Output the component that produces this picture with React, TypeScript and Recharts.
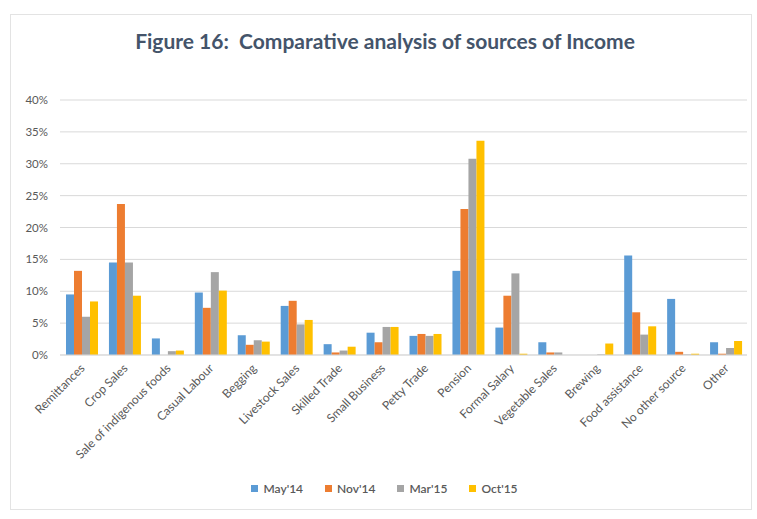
import React from "react";
import { BarChart, Bar, XAxis, YAxis, CartesianGrid, Legend } from "recharts";

const categories = [
  "Remittances",
  "Crop Sales",
  "Sale of indigenous foods",
  "Casual Labour",
  "Begging",
  "Livestock Sales",
  "Skilled Trade",
  "Small Business",
  "Petty Trade",
  "Pension",
  "Formal Salary",
  "Vegetable Sales",
  "Brewing",
  "Food assistance",
  "No other source",
  "Other",
];

const may14 = [9.5, 14.5, 2.6, 9.8, 3.1, 7.7, 1.7, 3.5, 3.0, 13.2, 4.3, 2.0, 0, 15.6, 8.8, 2.0];
const nov14 = [13.2, 23.7, 0, 7.4, 1.6, 8.5, 0.4, 2.0, 3.3, 22.9, 9.3, 0.4, 0, 6.7, 0.5, 0.2];
const mar15 = [6.0, 14.5, 0.6, 13.0, 2.3, 4.8, 0.7, 4.4, 3.0, 30.8, 12.8, 0.4, 0.1, 3.2, 0.1, 1.1];
const oct15 = [8.4, 9.3, 0.7, 10.1, 2.1, 5.5, 1.3, 4.4, 3.3, 33.6, 0.2, 0, 1.8, 4.5, 0.2, 2.2];

const yTicks = [0, 5, 10, 15, 20, 25, 30, 35, 40];

const seriesKeys = ["may14", "nov14", "mar15", "oct15"];
const seriesNames = ["May'14", "Nov'14", "Mar'15", "Oct'15"];
const seriesColors = ["#5B9BD5", "#ED7D31", "#A5A5A5", "#FFC000"];

const data = categories.map((c, i) => ({
  name: c,
  may14: may14[i],
  nov14: nov14[i],
  mar15: mar15[i],
  oct15: oct15[i],
}));

const FONT = "Lato, 'Open Sans', sans-serif";

const XTick = (props: any) => {
  const { x, y, payload } = props;
  return (
    <g transform={`translate(${x + 4},${y + 6})`}>
      <text
        x={0}
        y={0}
        textAnchor="end"
        transform="rotate(-45)"
        fill="#595959"
        fontSize={12}
        fontFamily={FONT}
      >
        {payload.value}
      </text>
    </g>
  );
};

const YTick = (props: any) => {
  const { y, payload } = props;
  return (
    <text x={48} y={y + 4} textAnchor="end" fill="#595959" fontSize={11.5} fontFamily={FONT}>
      {`${payload.value}%`}
    </text>
  );
};

const renderLegend = () => {
  return (
    <div
      style={{
        display: "flex",
        justifyContent: "center",
        gap: 22,
        fontFamily: FONT,
        fontSize: 12,
        color: "#595959",
        paddingLeft: 22,
        paddingTop: 11,
      }}
    >
      {seriesNames.map((n, i) => (
        <div key={n} style={{ display: "flex", alignItems: "center", gap: 5 }}>
          <span style={{ display: "inline-block", width: 7, height: 7, background: seriesColors[i] }} />
          <span style={{ fontWeight: 600 }}>{n}</span>
        </div>
      ))}
    </div>
  );
};

export default function App() {
  return (
    <div style={{ position: "absolute", left: 0, top: 0, width: 757, height: 519, background: "#fff" }}>
      <div
        style={{
          position: "absolute",
          left: 10,
          top: 14,
          width: 742,
          height: 496,
          border: "1px solid #e3e3e3",
          boxSizing: "border-box",
        }}
      />
      <div
        style={{
          position: "absolute",
          left: 0,
          top: 28,
          width: 770,
          textAlign: "center",
          fontFamily: FONT,
          fontWeight: 700,
          fontSize: 21,
          color: "#44546A",
        }}
      >
        Figure 16:&nbsp; Comparative analysis of sources of Income
      </div>
      <div style={{ position: "absolute", left: 0, top: 0 }}>
        <BarChart
          width={757}
          height={519}
          data={data}
          margin={{ top: 100, right: 10, left: 0, bottom: 15 }}
          barCategoryGap="14%"
          barGap={0}
        >
          <CartesianGrid vertical={false} stroke="#d9d9d9" />
          <XAxis
            dataKey="name"
            interval={0}
            height={115}
            tick={<XTick />}
            tickLine={false}
            axisLine={{ stroke: "#d9d9d9" }}
          />
          <YAxis
            width={60}
            domain={[0, 40]}
            ticks={yTicks}
            tick={<YTick />}
            tickLine={false}
            axisLine={false}
          />
          <Legend verticalAlign="bottom" height={34} content={renderLegend} />
          {seriesKeys.map((k, i) => (
            <Bar key={k} dataKey={k} name={seriesNames[i]} fill={seriesColors[i]} isAnimationActive={false} />
          ))}
        </BarChart>
      </div>
    </div>
  );
}
